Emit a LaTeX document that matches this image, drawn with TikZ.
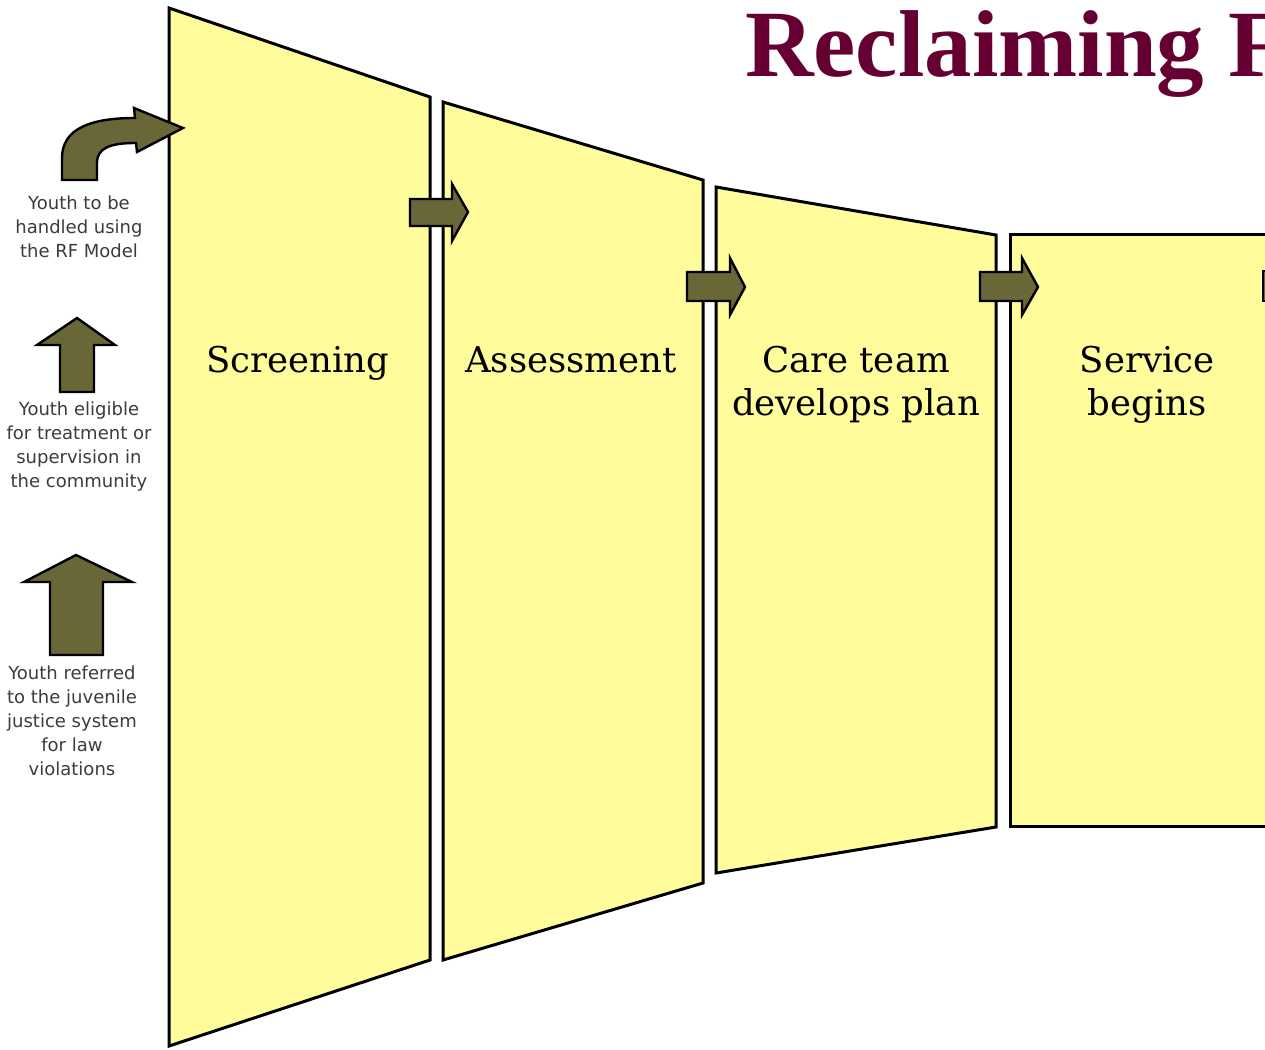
\documentclass[tikz,border=0pt]{standalone}
\usepackage{fontspec}
\setmainfont{DejaVu Serif}
\newfontfamily\sidefont{DejaVu Sans}
\newfontfamily\titlefont{Liberation Serif}
\definecolor{panelyellow}{RGB}{255,252,155}
\definecolor{olivearrow}{RGB}{105,102,55}
\definecolor{sidegrey}{RGB}{60,60,60}
\definecolor{titlemaroon}{RGB}{102,0,51}
\begin{document}
\begin{tikzpicture}[x=1pt,y=-1pt,
  panel/.style={fill=panelyellow,draw=black,line width=3pt,line join=miter},
  blockarrow/.style={fill=olivearrow,draw=black,line width=2.4pt,line join=miter},
  sidetext/.style={font=\sidefont\fontsize{18}{24}\selectfont,text=sidegrey,align=center,inner sep=0pt},
  paneltext/.style={font=\fontsize{35.5}{43}\selectfont,align=center,inner sep=0pt,anchor=base},
  titletext/.style={font=\titlefont\bfseries\fontsize{95}{100}\selectfont,text=titlemaroon,inner sep=0pt,anchor=base west}]
\useasboundingbox (0,0) rectangle (1265,1049);
\clip (0,0) rectangle (1265,1049);
\fill[white] (0,0) rectangle (1265,1049);
% panels
\draw[panel] (169,8) -- (430,97) -- (430,960) -- (169,1046) -- cycle;
\draw[panel] (443,102) -- (703,180) -- (703,883) -- (443,960) -- cycle;
\draw[panel] (716,187) -- (996,235) -- (996,827) -- (716,873) -- cycle;
\draw[panel] (1010,234) -- (1300,234) -- (1300,826) -- (1010,826) -- cycle;
% arrows between panels
\draw[blockarrow] (410,199) -- (452,199) -- (452,184) -- (468,212) -- (452,241) -- (452,226) -- (410,226) -- cycle;
\draw[blockarrow] (687,272) -- (730,272) -- (730,258) -- (745,287) -- (730,315) -- (730,301) -- (687,301) -- cycle;
\draw[blockarrow] (980,272) -- (1022,272) -- (1022,258) -- (1038,287) -- (1022,315) -- (1022,301) -- (980,301) -- cycle;
\draw[blockarrow] (1263,271) -- (1300,271) -- (1300,301) -- (1263,301) -- cycle;
% left side arrows
\draw[blockarrow] (62,180) -- (62,158) .. controls (62,128) and (92,118) .. (135,118) -- (134,108) -- (183,128) -- (137,152) -- (136,143) .. controls (110,143) and (97,148) .. (97,163) -- (97,180) -- cycle;
\draw[blockarrow] (60,392) -- (60,345) -- (37,345) -- (77,318) -- (115,345) -- (94,345) -- (94,392) -- cycle;
\draw[blockarrow] (50,655) -- (50,582) -- (24,582) -- (76,555) -- (132,582) -- (103,582) -- (103,655) -- cycle;
% side texts
\node[sidetext] (t1) at (79,227) {Youth to be\\handled using\\the RF Model};
\node[sidetext] (t2) at (79,447) {Youth eligible\\for treatment or\\supervision in\\the community};
\node[sidetext] (t3) at (72,721) {Youth referred\\to the juvenile\\justice system\\for law\\violations};
% panel labels
\node[paneltext] (screening) at (298,372) {Screening};
\node[paneltext] (assessment) at (571,372) {Assessment};
\node[paneltext] (care) at (856,415) {Care team\\develops plan};
\node[paneltext] (service) at (1147,415) {Service\\begins};
% title
\node[titletext] (title) at (745,77) {Reclaiming F};
\end{tikzpicture}
\end{document}
